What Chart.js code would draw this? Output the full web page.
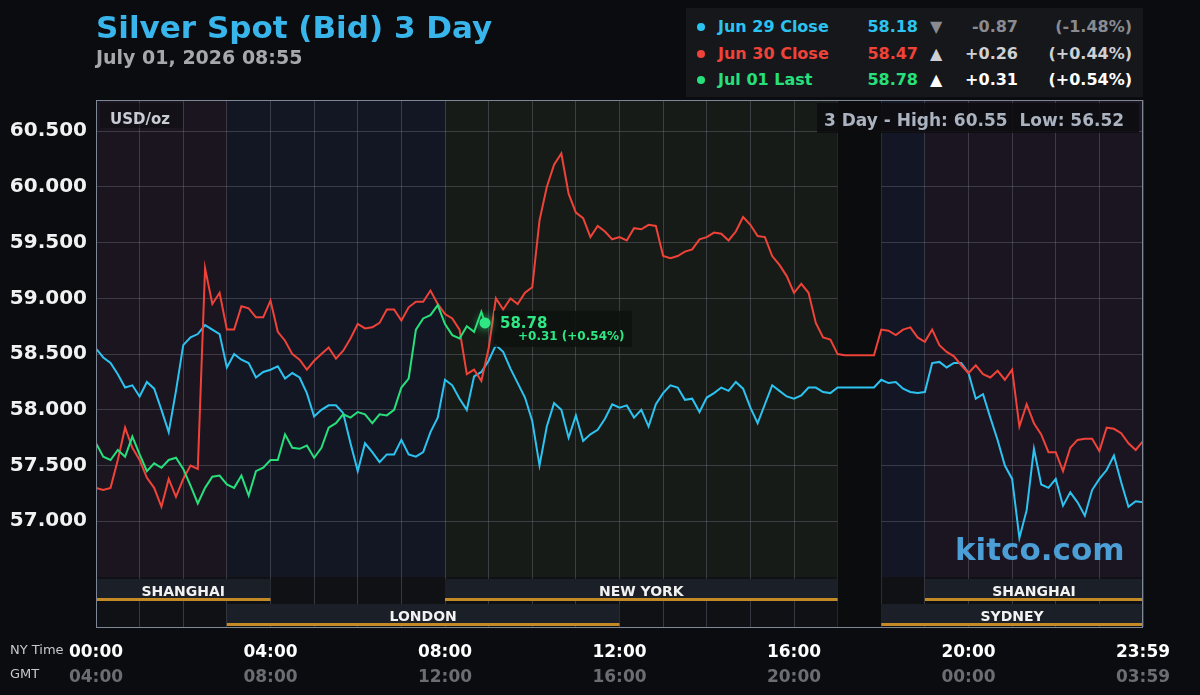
<!DOCTYPE html>
<html>
<head>
<meta charset="utf-8">
<script src="https://cdn.jsdelivr.net/npm/chart.js@4.4.1/dist/chart.umd.min.js"></script>
<style>
    html, body { margin: 0; padding: 0; background: #0b0c10; }
    #wrap { position: relative; width: 1200px; height: 695px; overflow: hidden; font-family: "DejaVu Sans", sans-serif; }
    #chart { position: absolute; left: 0; top: 0; }
    .abs { position: absolute; line-height: 1; white-space: nowrap; font-weight: bold; }
    .title { left: 96px; top: 12px; font-size: 31px; color: #38b6ec; }
    .date { left: 96px; top: 48px; font-size: 19px; color: #a8a8ac; }
    .legend-box { position: absolute; left: 686px; top: 8px; width: 457px; height: 89px; background: #15171b; }
    .unit-box { position: absolute; left: 100px; top: 103px; width: 83px; height: 25px; background: rgba(10, 10, 14, 0.45); }
    .unit { left: 110px; top: 112px; font-size: 15px; color: #c8ccd4; }
    .hl-box { position: absolute; left: 817px; top: 103px; width: 322px; height: 30px; background: rgba(12, 13, 16, 0.88); }
    .hl { left: 824px; top: 112px; font-size: 17px; color: #aab3bf; }
    .brand { left: 955px; top: 534px; font-size: 31px; color: #4b9ed6; }
    .axis-name { position: absolute; left: 10px; font-size: 13px; color: #c8c8cc; line-height: 1; }
</style>
</head>
<body>
<div id="wrap">
    <canvas id="chart" width="1200" height="695"></canvas>
    <div class="abs title">Silver Spot (Bid) 3 Day</div>
    <div class="abs date">July 01, 2026 08:55</div>
    <div class="legend-box" id="legend"></div>
    <div class="unit-box"></div>
    <div class="abs unit">USD/oz</div>
    <div class="hl-box"></div>
    <div class="abs hl">3 Day - High: 60.55&nbsp; Low: 56.52</div>
    <div class="abs brand">kitco.com</div>
    <div class="axis-name" style="top:643px">NY Time</div>
    <div class="axis-name" style="top:667px">GMT</div>
</div>
<script>
// prices every 10 minutes, NY time 00:00 .. 24:00
const STEP_HOURS = 10 / 60;

const jun29Values = [
    58.55, 58.47, 58.42, 58.32, 58.20, 58.22, 58.12, 58.25, 58.19, 58.00,
    57.80, 58.17, 58.58, 58.65, 58.68, 58.76, 58.72, 58.68, 58.38, 58.50,
    58.45, 58.42, 58.29, 58.34, 58.36, 58.39, 58.28, 58.33, 58.29, 58.15,
    57.94, 58.00, 58.04, 58.04, 57.97, 57.70, 57.45, 57.70, 57.62, 57.53,
    57.60, 57.60, 57.73, 57.60, 57.58, 57.62, 57.80, 57.93, 58.27, 58.22,
    58.10, 58.00, 58.30, 58.34, 58.44, 58.58, 58.52, 58.37, 58.24, 58.11,
    57.90, 57.50, 57.85, 58.06, 58.00, 57.75, 57.95, 57.72, 57.78, 57.82,
    57.92, 58.05, 58.02, 58.04, 57.93, 58.00, 57.85, 58.05, 58.15, 58.22,
    58.20, 58.09, 58.10, 57.98, 58.11, 58.15, 58.20, 58.17, 58.25, 58.19,
    58.02, 57.88, 58.05, 58.22, 58.17, 58.12, 58.10, 58.13, 58.20, 58.20,
    58.16, 58.15, 58.20, 58.20, 58.20, 58.20, 58.20, 58.20, 58.27, 58.24,
    58.25, 58.19, 58.16, 58.15, 58.16, 58.42, 58.43, 58.38, 58.42, 58.42,
    58.33, 58.10, 58.14, 57.93, 57.73, 57.50, 57.38, 56.85, 57.10, 57.65,
    57.33, 57.30, 57.38, 57.14, 57.26, 57.17, 57.05, 57.28, 57.38, 57.46,
    57.59, 57.35, 57.13, 57.18, 57.17
];

const jun30Values = [
    57.30, 57.28, 57.30, 57.55, 57.84, 57.66, 57.55, 57.39, 57.30, 57.13,
    57.38, 57.22, 57.38, 57.50, 57.47, 59.27, 58.95, 59.05, 58.72, 58.72,
    58.93, 58.91, 58.83, 58.83, 58.98, 58.70, 58.62, 58.50, 58.45, 58.36,
    58.44, 58.50, 58.56, 58.46, 58.53, 58.64, 58.77, 58.73, 58.74, 58.78,
    58.90, 58.90, 58.80, 58.92, 58.97, 58.97, 59.07, 58.95, 58.86, 58.82,
    58.72, 58.32, 58.36, 58.26, 58.55, 59.00, 58.90, 59.00, 58.95, 59.05,
    59.10, 59.70, 60.00, 60.20, 60.30, 59.94, 59.77, 59.72, 59.55, 59.65,
    59.60, 59.53, 59.55, 59.52, 59.63, 59.62, 59.66, 59.65, 59.38, 59.36,
    59.38, 59.42, 59.44, 59.53, 59.55, 59.59, 59.58, 59.52, 59.60, 59.73,
    59.66, 59.56, 59.55, 59.38, 59.30, 59.20, 59.05, 59.13, 59.05, 58.78,
    58.65, 58.63, 58.50, 58.49, 58.49, 58.49, 58.49, 58.49, 58.72, 58.71,
    58.67, 58.72, 58.74, 58.65, 58.61, 58.72, 58.58, 58.52, 58.48, 58.40,
    58.33, 58.40, 58.32, 58.29, 58.35, 58.27, 58.36, 57.85, 58.05, 57.88,
    57.78, 57.62, 57.62, 57.45, 57.66, 57.73, 57.74, 57.74, 57.63, 57.84,
    57.83, 57.79, 57.70, 57.64, 57.72
];

const jul01Values = [
    57.70, 57.58, 57.55, 57.64, 57.58, 57.76, 57.60, 57.45, 57.52, 57.48,
    57.55, 57.57, 57.47, 57.32, 57.16, 57.30, 57.40, 57.41, 57.33, 57.30,
    57.41, 57.23, 57.45, 57.48, 57.55, 57.55, 57.78, 57.66, 57.65, 57.68,
    57.57, 57.66, 57.84, 57.88, 57.96, 57.93, 57.98, 57.96, 57.88, 57.96,
    57.95, 58.00, 58.20, 58.28, 58.72, 58.82, 58.85, 58.94, 58.77, 58.67,
    58.64, 58.75, 58.70, 58.88
];
const jul01LastHour = 8 + 55 / 60;
const jul01Last = 58.78;

// legend rows
const legendNames = ['Jun 29 Close', 'Jun 30 Close', 'Jul 01 Last'];
const legendPrices = ['58.18', '58.47', '58.78'];
const legendArrows = ['\u25BC', '\u25B2', '\u25B2'];
const legendChanges = ['-0.87', '+0.26', '+0.31'];
const legendPcts = ['(-1.48%)', '(+0.44%)', '(+0.54%)'];
const seriesColors = ['#2cc3f1', '#ef4339', '#27e07b'];
const changeColors = ['#8a8b90', '#cfd0d4', '#ffffff'];

// axes
const yTicks = [57, 57.5, 58, 58.5, 59, 59.5, 60, 60.5];
const labelHours = [0, 4, 8, 12, 16, 20, 24];
const nyTicks = ['00:00', '04:00', '08:00', '12:00', '16:00', '20:00', '23:59'];
const gmtTicks = ['04:00', '08:00', '12:00', '16:00', '20:00', '00:00', '03:59'];

// market sessions (NY hours)
const plotBands = [
    { from: 0, to: 3, color: '#1b1520' },
    { from: 3, to: 8, color: '#131723' },
    { from: 8, to: 17, color: '#171b17' },
    { from: 18, to: 19, color: '#131624' },
    { from: 19, to: 24, color: '#1b1521' },
];
const closedFrom = 17, closedTo = 18;
const sessionNames = ['SHANGHAI', 'NEW YORK', 'SHANGHAI', 'LONDON', 'SYDNEY'];
const sessionStart = [0, 8, 19, 3, 18];
const sessionEnd = [4, 17, 24, 12, 24];
const sessionRow = [0, 0, 0, 1, 1];

const toPoints = vals => vals.map((v, i) => ({ x: i * STEP_HOURS, y: v }));

// legend html
const legend = document.getElementById('legend');
legendNames.forEach((name, i) => {
    const top = 11 + i * 26.7;
    legend.innerHTML += `
        <div style="position:absolute;left:11px;top:${top + 4}px;width:8px;height:8px;border-radius:50%;background:${seriesColors[i]}"></div>
        <div class="abs" style="left:32px;top:${top}px;font-size:16px;color:${seriesColors[i]}">${name}</div>
        <div class="abs" style="right:225px;top:${top}px;font-size:16px;color:${seriesColors[i]}">${legendPrices[i]}</div>
        <div class="abs" style="left:244px;top:${top}px;font-size:16px;color:${changeColors[i]}">${legendArrows[i]}</div>
        <div class="abs" style="right:125px;top:${top}px;font-size:16px;color:${changeColors[i]}">${legendChanges[i]}</div>
        <div class="abs" style="right:11px;top:${top}px;font-size:16px;color:${changeColors[i]}">${legendPcts[i]}</div>`;
});

const gridColor = 'rgba(120, 122, 138, 0.38)';

const sessionPlugin = {
    id: 'sessions',
    beforeDraw(chart) {
        const { ctx, chartArea: a, scales: { x } } = chart;
        ctx.save();
        plotBands.forEach(b => {
            const x0 = x.getPixelForValue(b.from);
            const x1 = x.getPixelForValue(b.to);
            ctx.fillStyle = b.color;
            ctx.fillRect(x0, a.top, x1 - x0, a.bottom - a.top);
        });
        ctx.fillStyle = '#0f1115';
        ctx.fillRect(a.left, a.bottom, a.right - a.left, 50);
        ctx.restore();
    },
    beforeDatasetsDraw(chart) {
        const { ctx, chartArea: a, scales: { x } } = chart;
        const x0 = x.getPixelForValue(closedFrom);
        const x1 = x.getPixelForValue(closedTo);
        ctx.save();
        ctx.fillStyle = '#0b0c0e';
        ctx.fillRect(x0, a.top, x1 - x0, a.bottom - a.top + 50);
        ctx.restore();
    },
    afterDatasetsDraw(chart) {
        const { ctx, chartArea: a, scales: { x } } = chart;
        ctx.save();
        sessionNames.forEach((name, i) => {
            const x0 = x.getPixelForValue(sessionStart[i]);
            const x1 = x.getPixelForValue(sessionEnd[i]);
            const top = a.bottom + 2 + sessionRow[i] * 25;
            ctx.fillStyle = '#1b1f27';
            ctx.fillRect(x0, top, x1 - x0, 22);
            ctx.fillStyle = '#c48a26';
            ctx.fillRect(x0, top + 19, x1 - x0, 3);
            ctx.fillStyle = '#f2f2f2';
            ctx.font = 'bold 14px "DejaVu Sans"';
            ctx.textAlign = 'center';
            ctx.textBaseline = 'middle';
            ctx.fillText(name, (x0 + x1) / 2, top + 13);
        });
        // frame
        ctx.strokeStyle = '#7e8796';
        ctx.lineWidth = 1;
        ctx.strokeRect(a.left + 0.5, a.top + 0.5, a.right - a.left - 1, a.bottom - a.top + 50);

        // last price marker
        const meta = chart.getDatasetMeta(0);
        const pt = meta.data[meta.data.length - 1];
        ctx.fillStyle = 'rgba(14, 18, 16, 0.88)';
        ctx.fillRect(pt.x + 9, pt.y - 12, 138, 36);
        ctx.shadowColor = '#27e07b';
        ctx.shadowBlur = 10;
        ctx.fillStyle = '#2ee884';
        ctx.beginPath();
        ctx.arc(pt.x, pt.y, 5.5, 0, Math.PI * 2);
        ctx.fill();
        ctx.shadowBlur = 0;
        ctx.textAlign = 'left';
        ctx.textBaseline = 'middle';
        ctx.font = 'bold 15px "DejaVu Sans"';
        ctx.fillText(legendPrices[2], pt.x + 15, pt.y + 1);
        ctx.font = 'bold 12px "DejaVu Sans"';
        ctx.fillText(legendChanges[2] + ' ' + legendPcts[2], pt.x + 33, pt.y + 14);
        ctx.restore();
    }
};

Chart.defaults.font.family = '"DejaVu Sans", sans-serif';

new Chart(document.getElementById('chart'), {
    type: 'line',
    data: {
        datasets: [
            { label: 'Jul 01', data: toPoints(jul01Values).concat({ x: jul01LastHour, y: jul01Last }), borderColor: seriesColors[2] },
            { label: 'Jun 30', data: toPoints(jun30Values), borderColor: seriesColors[1] },
            { label: 'Jun 29', data: toPoints(jun29Values), borderColor: seriesColors[0] },
        ],
    },
    options: {
        responsive: false,
        devicePixelRatio: 1,
        animation: false,
        layout: { padding: { top: 100, right: 57, bottom: 0, left: 0 } },
        elements: {
            point: { radius: 0, hoverRadius: 0 },
            line: { borderWidth: 2, tension: 0 },
        },
        plugins: {
            legend: { display: false },
            tooltip: { enabled: false },
        },
        scales: {
            x: {
                type: 'linear',
                min: 0,
                max: 24,
                afterBuildTicks: s => { s.ticks = Array.from({ length: 25 }, (_, h) => ({ value: h })); },
                afterFit: s => { s.height = 85; },
                grid: { color: gridColor, tickLength: 50 },
                border: { display: false },
                ticks: {
                    autoSkip: false,
                    maxRotation: 0,
                    padding: 15,
                    color: '#ffffff',
                    font: { size: 17, weight: 'bold' },
                    callback: v => { const k = labelHours.indexOf(v); return k >= 0 ? nyTicks[k] : ''; },
                },
            },
            x2: {
                type: 'linear',
                position: 'bottom',
                min: 0,
                max: 24,
                afterBuildTicks: s => { s.ticks = labelHours.map(h => ({ value: h })); },
                afterFit: s => { s.height = 33; },
                grid: { display: false, drawTicks: false },
                border: { display: false },
                ticks: {
                    autoSkip: false,
                    maxRotation: 0,
                    padding: 5,
                    color: '#6c6d72',
                    font: { size: 17, weight: 'bold' },
                    callback: v => gmtTicks[labelHours.indexOf(v)],
                },
            },
            y: {
                min: 56.5,
                max: 60.78,
                afterBuildTicks: s => { s.ticks = yTicks.map(v => ({ value: v })); },
                afterFit: s => { s.width = 96; },
                grid: { color: gridColor, drawTicks: false },
                border: { display: false },
                ticks: {
                    padding: 9,
                    color: '#f2f2f2',
                    font: { size: 20, weight: 'bold' },
                    callback: v => v.toFixed(3),
                },
            },
        },
    },
    plugins: [sessionPlugin],
});
</script>
</body>
</html>
